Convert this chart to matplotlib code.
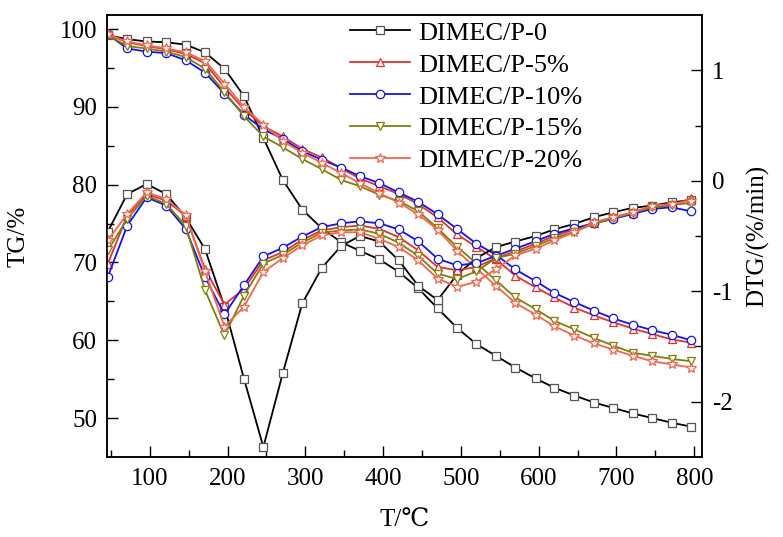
import numpy as np
import matplotlib.pyplot as plt

plt.rcParams['font.family'] = ['Liberation Serif', 'DejaVu Serif', 'Noto Sans CJK SC']
plt.rcParams['axes.unicode_minus'] = False

# temperature of each marker, degC
T = [46, 71, 96, 121, 146, 171, 196, 221, 246, 271, 296, 321, 346, 370, 395, 420,
     445, 470, 495, 520, 545, 570, 596, 620, 646, 671, 696, 721, 746, 771, 796]

labels = ["DIMEC/P-0", "DIMEC/P-5%", "DIMEC/P-10%", "DIMEC/P-15%", "DIMEC/P-20%"]

# TG, %
tg_0 = [99.2, 98.7, 98.4, 98.3, 98.0, 97.0, 94.9, 91.4, 86.0, 80.6, 76.8, 74.4, 72.6, 71.5, 70.4, 68.8,
        66.7, 64.1, 61.6, 59.5, 58.0, 56.5, 55.1, 53.9, 52.9, 52.0, 51.3, 50.6, 50.0, 49.4, 48.9]
tg_5 = [99.3, 98.3, 97.8, 97.4, 96.8, 95.6, 92.5, 89.7, 87.5, 86.2, 84.6, 83.5, 82.1, 80.8, 79.8, 78.8,
        77.5, 75.8, 73.6, 72.0, 70.4, 68.3, 66.8, 65.5, 64.2, 63.2, 62.3, 61.5, 60.8, 60.1, 59.7]
tg_10 = [99.3, 97.5, 97.1, 96.9, 96.0, 94.4, 91.7, 89.0, 87.1, 85.9, 84.3, 83.2, 82.2, 81.1, 80.2, 79.0,
         77.8, 76.2, 74.3, 72.4, 71.0, 69.1, 67.6, 66.1, 64.9, 63.8, 62.8, 62.0, 61.3, 60.7, 60.0]
tg_15 = [99.2, 97.8, 97.5, 97.1, 96.4, 94.9, 91.9, 88.8, 86.2, 84.8, 83.3, 82.0, 80.6, 79.8, 78.7, 77.9,
         76.6, 74.4, 72.0, 69.9, 67.7, 65.5, 64.0, 62.5, 61.4, 60.3, 59.3, 58.4, 58.0, 57.6, 57.3]
tg_20 = [99.3, 98.4, 97.9, 97.5, 97.0, 95.9, 93.0, 90.0, 87.7, 85.6, 84.1, 82.8, 81.5, 80.2, 78.9, 77.7,
         76.2, 74.2, 71.5, 69.2, 67.0, 64.8, 63.3, 61.8, 60.6, 59.6, 58.8, 58.0, 57.3, 56.9, 56.5]

# DTG, %/min
dtg_0 = [-0.46, -0.12, -0.03, -0.12, -0.33, -0.62, -1.14, -1.79, -2.41, -1.74, -1.11, -0.79, -0.59, -0.50, -0.55, -0.72,
         -0.95, -1.08, -0.85, -0.70, -0.60, -0.55, -0.50, -0.44, -0.39, -0.33, -0.285, -0.245, -0.225, -0.195, -0.175]
dtg_5 = [-0.75, -0.315, -0.12, -0.18, -0.315, -0.80, -1.12, -0.98, -0.72, -0.646, -0.534, -0.45, -0.42, -0.405, -0.435, -0.51,
         -0.63, -0.78, -0.81, -0.78, -0.70, -0.64, -0.57, -0.50, -0.44, -0.38, -0.33, -0.29, -0.24, -0.22, -0.16]
dtg_10 = [-0.87, -0.405, -0.15, -0.225, -0.435, -0.87, -1.21, -0.946, -0.685, -0.606, -0.505, -0.42, -0.385, -0.367, -0.385, -0.44,
          -0.547, -0.705, -0.766, -0.745, -0.68, -0.615, -0.547, -0.48, -0.43, -0.385, -0.345, -0.30, -0.255, -0.24, -0.277]
dtg_15 = [-0.63, -0.345, -0.135, -0.21, -0.405, -0.99, -1.40, -1.04, -0.75, -0.67, -0.56, -0.47, -0.45, -0.44, -0.48, -0.56,
          -0.68, -0.84, -0.89, -0.82, -0.70, -0.66, -0.59, -0.52, -0.46, -0.39, -0.34, -0.29, -0.24, -0.22, -0.20]
dtg_20 = [-0.54, -0.30, -0.105, -0.165, -0.31, -0.82, -1.32, -1.14, -0.826, -0.70, -0.585, -0.495, -0.466, -0.466, -0.525, -0.60,
          -0.72, -0.885, -0.96, -0.915, -0.80, -0.676, -0.615, -0.54, -0.466, -0.375, -0.33, -0.285, -0.225, -0.21, -0.18]

tg_all = [tg_0, tg_5, tg_10, tg_15, tg_20]
dtg_all = [dtg_0, dtg_5, dtg_10, dtg_15, dtg_20]
colors = ["#000000", "#e8302c", "#1414e6", "#7f7f0a", "#f4664c"]
edge = ["#555555", "#e8302c", "#1414e6", "#7f7f0a", "#f4664c"]
markers = ["s", "^", "o", "v", "*"]
msizes = [5.5, 6, 6, 6, 7.5]

fig = plt.figure(figsize=(7.83, 5.37), dpi=100)
ax = fig.add_axes([0.1367, 0.149, 0.7599, 0.823])
ax2 = ax.twinx()

handles = []
for i in range(5):
    h, = ax.plot(T, tg_all[i], color=colors[i], lw=1.3, marker=markers[i], ms=msizes[i],
                 mfc="white", mec=edge[i], mew=0.9, label=labels[i])
    ax2.plot(T, dtg_all[i], color=colors[i], lw=1.3, marker=markers[i], ms=msizes[i],
             mfc="white", mec=edge[i], mew=0.9)
    handles.append(h)

ax.set_xlim(45, 810)
ax.set_ylim(45, 101.8)
ax2.set_ylim(-2.5, 1.5)

ax.set_xticks([100, 200, 300, 400, 500, 600, 700, 800])
ax.set_xticks(np.arange(50, 810, 100), minor=True)
ax.set_yticks([50, 60, 70, 80, 90, 100])
ax.set_yticks([55, 65, 75, 85, 95], minor=True)
ax2.set_yticks([-2, -1, 0, 1])
ax2.set_yticks([-1.5, -0.5, 0.5], minor=True)

for a in (ax, ax2):
    a.tick_params(which="major", direction="in", length=8, width=1.0, labelsize=18)
    a.tick_params(which="minor", direction="in", length=5, width=1.0)
    for s in a.spines.values():
        s.set_linewidth(1.1)
ax.tick_params(top=False, right=False, pad=7)
ax.tick_params(axis="x", pad=8)
ax2.tick_params(pad=7)

ax.set_xlabel("T/℃", fontsize=18, labelpad=14)
ax.set_ylabel("TG/%", fontsize=18, labelpad=22)
ax2.set_ylabel("DTG/(%/min)", fontsize=18, labelpad=10)

ax.legend(handles=handles, loc="upper left", bbox_to_anchor=(0.408, 0.986), frameon=False,
          fontsize=19, handlelength=2.3, handletextpad=0.3, labelspacing=0.32,
          borderpad=0, borderaxespad=0)

fig.savefig("out.png", dpi=100)
